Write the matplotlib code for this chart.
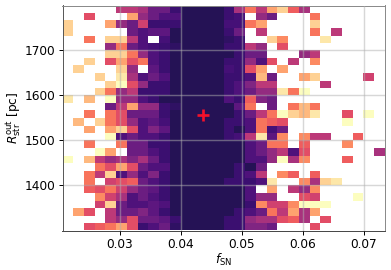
import numpy as np
import matplotlib
matplotlib.use('Agg')
import matplotlib.pyplot as plt

# Colour level of each cell, top row first (0 = empty)
row_00 = [0, 0, 0, 0, 0, 6, 6, 6.5, 8, 8, 10, 11, 11, 11, 11, 10, 6.5, 4, 6, 3, 2, 4.5, 6.5, 0, 0, 0, 0, 0, 0, 0]
row_01 = [0, 0, 5, 0, 0, 0, 3, 7, 8, 9, 9, 11, 11, 11, 11, 10, 9.5, 0, 7, 8, 0, 0, 0, 4, 0, 0, 0, 0, 0, 0]
row_02 = [2, 0, 0, 0, 3, 7, 8, 5.5, 10, 10, 10, 11, 11, 11, 11, 9.5, 9.5, 4, 3, 0, 0, 0, 0, 2, 0, 0, 0, 0, 0, 0]
row_03 = [2, 0, 0, 0, 0, 0, 8, 9, 8.5, 8.5, 11, 11, 11, 11, 11, 10, 8, 0, 6, 0, 0, 0, 0, 4, 0, 6, 0, 0, 0, 0]
row_04 = [0, 0, 4, 0, 2, 2, 6, 9, 0, 9.5, 11, 11, 11, 11, 11, 10.5, 10, 0, 0, 2, 3.5, 0, 0, 0, 1.5, 0, 0, 0, 0, 0]
row_05 = [0, 0, 0, 0, 7, 4, 8, 9, 9.5, 10, 10.5, 11, 11, 11, 11, 10, 10, 6, 7, 0, 5, 0, 0, 0, 0, 0, 0, 0, 0, 0]
row_06 = [0, 0, 0, 0, 2, 2, 4, 7, 9, 10, 11, 11, 11, 11, 11, 11, 10, 8, 8, 0, 0, 0, 7, 6, 0, 0, 0, 0, 0, 0]
row_07 = [0, 0, 2, 0, 5, 3, 5, 4, 9, 10, 11, 11, 11, 11, 11, 10, 10, 7, 9, 5, 0, 6, 0, 3.5, 0, 0, 0, 0, 0, 0]
row_08 = [0, 2, 0, 0, 0, 2, 7, 0, 8.5, 10, 11, 11, 11, 11, 11, 9.5, 10, 5, 3, 0, 3, 0, 0, 0, 0, 0, 0, 0, 0, 0]
row_09 = [0, 0, 0, 2, 0, 1.5, 6.5, 9, 8, 9, 11, 11, 11, 11, 11, 10, 10, 9, 2.5, 8, 0, 0, 3, 2, 0, 0, 0, 0, 5.5, 0]
row_10 = [0, 0, 0, 0, 2, 1, 5, 7, 10, 10, 11, 11, 11, 11, 11, 10, 9, 7.5, 6, 6, 0, 0, 0, 0, 6, 0, 0, 0, 0, 0]
row_11 = [0, 0, 0, 2, 4, 7, 6, 10, 10, 10, 11, 11, 11, 11, 11, 10, 9, 8, 7, 7, 1.5, 4, 1, 0, 0, 0, 0, 0, 0, 0]
row_12 = [1.5, 0, 2.5, 0, 1, 7, 7, 9, 10, 11, 11, 11, 11, 11, 11, 9, 10, 4.5, 7.5, 8, 0, 0, 0, 0, 0, 0, 0, 0, 0, 0]
row_13 = [0, 0, 0, 0, 8, 6, 3, 7, 7, 10, 10.5, 11, 11, 11, 11, 11, 8.5, 4, 0, 8, 0, 4, 2.5, 4, 0, 0, 0, 0, 0, 0]
row_14 = [0, 0, 4, 0, 4, 5, 8, 8, 8, 10, 11, 11, 11, 11, 11, 11, 10, 8, 6, 4, 1, 2, 2.5, 1.5, 0, 0, 5, 0, 1, 0]
row_15 = [0, 2.5, 0, 2, 4, 5, 7, 9, 8.5, 9.5, 11, 11, 11, 11, 11, 10, 10, 9, 4, 4.5, 5, 0, 0, 0, 0, 0, 1, 0, 0, 0]
row_16 = [0, 0, 3, 0, 3, 2, 5, 9, 7.5, 8.5, 11, 11, 11, 11, 11, 10, 11, 9, 4, 9.5, 8, 0, 0, 0, 0, 0, 0, 0, 0, 0]
row_17 = [0, 0, 0, 0, 1, 9, 8, 9, 9, 10, 11, 11, 11, 11, 11, 10, 9.5, 6, 1.5, 8.5, 3.5, 0, 3.5, 6, 6, 0, 0, 4.5, 0, 0]
row_18 = [0, 0, 4, 0, 0, 4, 8, 8, 10, 10, 11, 11, 11, 11, 11, 11, 11, 9, 8, 4, 4, 0, 4.5, 0, 0, 0, 3.5, 0, 0, 0]
row_19 = [0, 0, 0, 1, 3, 0, 8, 8, 9, 10, 11, 11, 11, 11, 11, 11, 11, 9, 8, 7, 6, 9, 5, 0, 0, 0, 0, 0, 0, 6.5]
row_20 = [1, 0, 2.5, 6, 7, 6.5, 7.5, 6.5, 8, 10, 11, 11, 11, 11, 11, 11, 11, 9, 9, 7, 1, 6.5, 3.5, 0, 0, 0, 4.5, 0, 0, 0]
row_21 = [0, 0, 0, 4, 5, 3, 5, 8, 9, 9, 11, 11, 11, 11, 11, 11, 10, 11, 8, 0, 0, 0, 0, 0, 0, 0, 0, 0, 0, 0]
row_22 = [0, 0, 4, 6, 2, 9, 7, 9, 7.5, 10, 11, 11, 11, 11, 11, 11, 10, 9, 6, 0, 3.5, 4.5, 0, 4.5, 0, 0, 0, 0, 0, 0]
row_23 = [0, 0, 4, 0, 5.5, 5, 4.5, 8, 9, 10, 11, 11, 11, 11, 11, 10, 10, 10, 9, 1.5, 0, 0, 3.5, 6.5, 2, 1.5, 0, 0, 0, 0]
row_24 = [0, 0, 4.5, 5, 4, 5.5, 7, 8, 8.5, 10, 11, 11, 11, 11, 11, 11, 11, 9, 0, 3, 0, 6, 7, 3.5, 0, 0, 0, 0, 0, 0]
row_25 = [0, 0, 0, 3.5, 5.5, 6.5, 9, 8, 9, 10, 11, 11, 11, 11, 11, 11, 11, 9, 7, 7, 0, 0, 5, 5.5, 0, 0, 0, 1, 0, 0]
row_26 = [0, 0, 0, 5.5, 2, 8, 9, 9, 8.5, 9, 11, 11, 11, 11, 11, 11, 11, 10, 3.5, 5.5, 5.5, 3.5, 1, 1, 1, 0, 0, 0, 0, 0]
row_27 = [0, 3, 5, 0, 6, 8, 8, 7.5, 8.5, 10, 11, 11, 11, 11, 11, 11, 10, 9, 8, 4, 6, 3, 6.5, 3, 0, 0, 0, 0, 0, 0]
row_28 = [0, 0, 0, 0, 6, 7, 5, 8, 8, 8.5, 10, 11, 11, 11, 11, 10, 10, 7, 6.5, 6.5, 5, 4.5, 6.5, 0, 5, 0, 0, 0, 0, 0]
row_29 = [0, 0, 5, 4.5, 4, 3, 5, 10, 9, 8, 10.5, 11, 11, 11, 11, 10, 10, 7.5, 7.5, 8, 0, 0, 0, 5, 0, 0, 0, 0, 0, 0]

levels = np.array([row_00, row_01, row_02, row_03, row_04, row_05, row_06, row_07, row_08, row_09,
                   row_10, row_11, row_12, row_13, row_14, row_15, row_16, row_17, row_18, row_19,
                   row_20, row_21, row_22, row_23, row_24, row_25, row_26, row_27, row_28, row_29])

x_range = [0.02056, 0.07351]
y_range = [1299, 1799]
x_ticks = [0.03, 0.04, 0.05, 0.06, 0.07]
y_ticks = [1400, 1500, 1600, 1700]
best_x = 0.0436
best_y = 1556

x_edges = np.linspace(x_range[0], x_range[1], levels.shape[1] + 1)
y_edges = np.linspace(y_range[1], y_range[0], levels.shape[0] + 1)

# Dark end of the scale is squeezed: levels 8 to 11 stay close together
shade = np.interp(levels, [1, 8, 9, 10, 11], [0, 0.68, 0.75, 0.8, 0.85])

fig = plt.figure(figsize=(391 / 87, 270 / 87), dpi=87)
ax = fig.add_axes([62.5 / 391, 1 - 230.5 / 270, 322.5 / 391, 225 / 270])

ax.pcolormesh(x_edges, y_edges, np.ma.masked_where(levels == 0, shade), cmap='magma_r',
              vmin=0, vmax=1, antialiased=True)
ax.plot(best_x, best_y, '+', color='#f5102a', markersize=10.5, markeredgewidth=2.2, zorder=5)

ax.set_xlim(x_range)
ax.set_ylim(y_range)
ax.set_xticks(x_ticks)
ax.set_yticks(y_ticks)
ax.set_axisbelow(False)
ax.grid(True, color='#b0b0b0', alpha=0.5, linewidth=1.2)
ax.tick_params(length=3, pad=3)
ax.set_xlabel(r'$f_{\rm SN}$', labelpad=1)
ax.set_ylabel(r'$R_{\rm str}^{\rm out}$ [pc]', labelpad=0)
ax.spines['left'].set_color('#555555')
ax.spines['bottom'].set_color('#444444')
ax.spines['top'].set_color('#888888')
ax.spines['right'].set_color('#888888')

fig.savefig('out.png', dpi=87)
